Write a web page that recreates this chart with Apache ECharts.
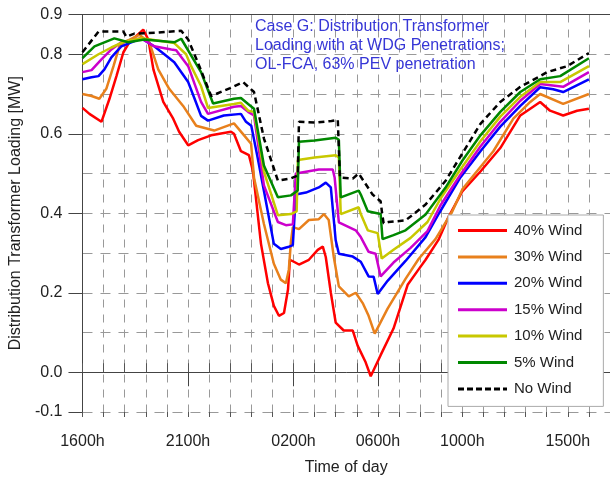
<!DOCTYPE html>
<html>
<head>
<meta charset="utf-8">
<script src="https://cdn.jsdelivr.net/npm/echarts@6/dist/echarts.min.js"></script>
<style>
html, body { margin: 0; padding: 0; background: #fff; }
#main { width: 610px; height: 481px; }
</style>
</head>
<body>
<div id="main"></div>
<script>
// hours counted from 1600h
var hourTicks = [0, 5, 10, 14, 18, 23];
var hourLabels = ['1600h', '2100h', '0200h', '0600h', '1000h', '1500h'];
var yTicks = [-0.1, 0, 0.2, 0.4, 0.6, 0.8, 0.9];
var names = ['40% Wind', '30% Wind', '20% Wind', '15% Wind', '10% Wind', '5% Wind', 'No Wind'];

var wind40 = [[0,0.665],[0.33,0.65],[0.9,0.63],[1.28,0.688],[1.61,0.745],[1.94,0.805],[2.22,0.83],[2.88,0.862],[3.12,0.837],[3.36,0.762],[3.83,0.68],[4.3,0.638],[4.58,0.605],[5.01,0.571],[5.48,0.584],[6.1,0.596],[7.04,0.605],[7.18,0.60],[7.51,0.556],[7.89,0.546],[8.08,0.506],[8.46,0.323],[8.79,0.224],[9.07,0.167],[9.31,0.142],[9.55,0.149],[9.74,0.208],[9.83,0.283],[10.02,0.278],[10.26,0.271],[10.73,0.283],[11.15,0.308],[11.39,0.316],[11.53,0.29],[11.77,0.2],[12.0,0.125],[12.38,0.105],[12.81,0.105],[13.04,0.067],[13.42,0.025],[13.66,-0.01],[14.13,0.043],[14.74,0.11],[15.41,0.22],[15.88,0.255],[16.26,0.283],[16.87,0.333],[17.34,0.39],[18.0,0.455],[18.86,0.505],[19.8,0.564],[20.75,0.646],[21.69,0.68],[22.16,0.658],[22.78,0.646],[23.44,0.658],[24,0.663]];
var wind30 = [[0,0.70],[0.43,0.695],[0.8,0.688],[1.13,0.713],[1.47,0.77],[1.75,0.82],[1.98,0.83],[2.69,0.849],[3.17,0.83],[3.59,0.762],[4.11,0.713],[4.77,0.67],[5.39,0.62],[6.24,0.608],[7.18,0.626],[7.66,0.596],[7.99,0.575],[8.13,0.489],[8.6,0.373],[9.07,0.273],[9.4,0.233],[9.64,0.224],[9.78,0.258],[9.88,0.33],[9.97,0.365],[10.26,0.36],[10.73,0.383],[11.2,0.385],[11.44,0.398],[11.67,0.383],[11.91,0.29],[12.15,0.216],[12.62,0.191],[12.95,0.2],[13.28,0.174],[13.56,0.142],[13.85,0.097],[14.46,0.16],[15.31,0.235],[15.93,0.285],[16.73,0.335],[17.53,0.405],[18.0,0.46],[18.53,0.495],[19.47,0.556],[20.42,0.638],[21.22,0.68],[21.69,0.70],[22.78,0.675],[24,0.70]];
var wind20 = [[0,0.737],[0.43,0.742],[0.76,0.745],[1.04,0.762],[1.37,0.792],[1.84,0.82],[2.79,0.84],[3.4,0.82],[3.88,0.80],[4.35,0.78],[5.01,0.73],[5.3,0.69],[5.62,0.645],[5.95,0.633],[6.7,0.646],[7.51,0.65],[7.75,0.63],[8.0,0.62],[8.3,0.54],[8.6,0.456],[9.07,0.323],[9.4,0.31],[9.74,0.315],[9.97,0.32],[10.11,0.447],[10.59,0.452],[11.2,0.465],[11.53,0.477],[11.77,0.465],[12.0,0.332],[12.15,0.298],[12.81,0.291],[13.19,0.278],[13.56,0.241],[13.8,0.24],[13.99,0.197],[14.46,0.23],[15.31,0.28],[16.26,0.34],[16.9,0.40],[17.91,0.49],[18.86,0.556],[19.8,0.618],[20.75,0.67],[21.69,0.717],[22.31,0.712],[22.78,0.705],[24,0.737]];
var wind15 = [[0,0.755],[0.43,0.76],[0.9,0.787],[1.37,0.812],[1.84,0.83],[2.79,0.84],[3.4,0.82],[4.21,0.812],[4.44,0.81],[5.01,0.77],[5.62,0.68],[5.95,0.65],[7.18,0.668],[7.51,0.67],[7.85,0.655],[8.13,0.646],[8.6,0.47],[9.26,0.378],[9.64,0.37],[9.97,0.372],[10.11,0.50],[11.2,0.51],[11.86,0.51],[11.95,0.49],[12.15,0.377],[12.95,0.357],[13.19,0.34],[13.56,0.303],[13.89,0.298],[14.13,0.241],[14.74,0.276],[15.55,0.313],[16.35,0.355],[16.97,0.42],[17.91,0.497],[18.86,0.568],[19.8,0.63],[20.75,0.683],[21.69,0.725],[22.78,0.718],[24,0.755]];
var wind10 = [[0,0.775],[0.76,0.80],[1.37,0.817],[1.98,0.832],[2.79,0.84],[3.88,0.832],[4.35,0.828],[4.91,0.80],[5.15,0.77],[5.62,0.72],[5.95,0.665],[7.18,0.675],[7.51,0.678],[7.85,0.658],[8.13,0.655],[8.6,0.505],[9.26,0.395],[9.88,0.398],[10.15,0.405],[10.21,0.534],[11.0,0.54],[12.0,0.546],[12.15,0.54],[12.24,0.398],[13.09,0.415],[13.19,0.398],[13.52,0.357],[13.99,0.35],[14.18,0.286],[14.74,0.308],[15.55,0.338],[16.35,0.378],[16.97,0.437],[17.91,0.51],[18.86,0.581],[19.8,0.643],[20.75,0.693],[21.69,0.73],[22.64,0.73],[24,0.77]];
var wind5 = [[0,0.79],[0.57,0.82],[1.51,0.84],[2.17,0.83],[2.93,0.837],[4.35,0.83],[4.68,0.839],[5.62,0.755],[6.19,0.676],[7.18,0.688],[7.51,0.69],[7.85,0.675],[8.13,0.663],[8.6,0.52],[9.26,0.44],[9.88,0.445],[10.2,0.457],[10.26,0.58],[11.0,0.583],[12.0,0.59],[12.15,0.585],[12.24,0.44],[13.09,0.457],[13.19,0.447],[13.52,0.405],[14.13,0.398],[14.22,0.335],[14.74,0.345],[15.31,0.357],[16.26,0.397],[17.2,0.464],[18.0,0.532],[18.86,0.596],[19.8,0.655],[20.75,0.705],[21.69,0.737],[22.64,0.745],[24,0.79]];
var noWind = [[0,0.805],[0.76,0.857],[1.94,0.857],[2.08,0.844],[2.46,0.852],[3.5,0.854],[4.68,0.859],[5.01,0.837],[5.5,0.775],[6.1,0.695],[6.33,0.70],[7.0,0.715],[7.61,0.73],[8.13,0.705],[8.6,0.588],[9.26,0.482],[9.88,0.488],[10.2,0.495],[10.26,0.63],[11.0,0.628],[11.8,0.632],[12.1,0.635],[12.2,0.49],[12.81,0.487],[13.09,0.50],[13.75,0.447],[14.13,0.43],[14.2,0.40],[14.27,0.375],[14.5,0.378],[15.31,0.382],[16.26,0.422],[17.2,0.481],[18.0,0.55],[18.86,0.625],[19.8,0.68],[20.75,0.718],[21.69,0.745],[22.02,0.755],[22.97,0.77],[24,0.803]];

var colors = ['#ff0000', '#e8801c', '#0000ff', '#cc00cc', '#c8c800', '#008800', '#000000'];
var allData = [wind40, wind30, wind20, wind15, wind10, wind5, noWind];

var myChart = echarts.init(document.getElementById('main'));

var font = 'Liberation Sans, Arial, sans-serif';
var axisColor = '#444';
var dashIcon = 'path://M0,0h6v3h-6z M9,0h6v3h-6z M18,0h6v3h-6z M27,0h6v3h-6z M36,0h6v3h-6z M45,0h4v3h-4z';

var series = allData.map(function (d, i) {
    return {
        name: names[i],
        type: 'line',
        data: d,
        symbol: 'none',
        color: colors[i],
        lineStyle: {
            width: 2.5,
            color: colors[i],
            type: i === 6 ? [6, 4] : 'solid'
        },
        animation: false
    };
});

// legend: plain line samples, dashed for No Wind
var legendData = names.map(function (n, i) {
    return { name: n, icon: i === 6 ? dashIcon : 'rect' };
});

var option = {
    backgroundColor: '#fff',
    textStyle: { fontFamily: font },
    title: {
        text: 'Case G: Distribution Transformer\nLoading with at WDG Penetrations;\nOL-FCA, 63% PEV penetration',
        left: 255,
        top: 17,
        padding: 0,
        textStyle: {
            fontFamily: font,
            fontSize: 16,
            fontWeight: 'normal',
            color: '#3636d6',
            lineHeight: 19
        }
    },
    grid: { left: 81, right: 0, top: 14.5, bottom: 64 },
    legend: {
        orient: 'vertical',
        left: 448,
        top: 215,
        padding: [8, 21, 10, 10],
        itemGap: 11.4,
        itemWidth: 49,
        itemHeight: 3,
        backgroundColor: '#fff',
        borderColor: '#aaa',
        borderWidth: 1,
        textStyle: { fontFamily: font, fontSize: 15, color: '#222', padding: [0, 0, 0, 2] },
        data: legendData
    },
    xAxis: [
        {
            type: 'value',
            min: 0,
            max: 25,
            name: 'Time of day',
            nameLocation: 'middle',
            nameGap: 48,
            nameTextStyle: { fontFamily: font, fontSize: 16, color: '#222' },
            axisLine: { show: true, lineStyle: { color: axisColor } },
            axisTick: { show: true, length: 14, customValues: hourTicks, lineStyle: { color: axisColor } },
            axisLabel: {
                customValues: hourTicks,
                margin: 22,
                fontFamily: font,
                fontSize: 16,
                color: '#222',
                formatter: function (v) {
                    var k = hourTicks.indexOf(v);
                    return k >= 0 ? hourLabels[k] : '';
                }
            },
            splitLine: { show: false }
        },
        {
            // hourly ticks above the axis + vertical grid
            type: 'value',
            min: 0,
            max: 25,
            interval: 1,
            position: 'bottom',
            axisLine: { show: false },
            axisTick: { show: true, inside: true, length: 9, lineStyle: { color: '#555' } },
            axisLabel: { show: false },
            splitLine: { show: true, lineStyle: { color: '#999', type: [8, 7], width: 1 } }
        },
        {
            // hourly ticks below the axis
            type: 'value',
            min: 0,
            max: 25,
            interval: 1,
            position: 'bottom',
            axisLine: { show: false },
            axisTick: { show: true, length: 5, lineStyle: { color: '#555' } },
            axisLabel: { show: false },
            splitLine: { show: false }
        },
        {
            type: 'value',
            min: 0,
            max: 25,
            position: 'top',
            axisLine: { show: true, lineStyle: { color: axisColor } },
            axisTick: { show: false },
            axisLabel: { show: false },
            splitLine: { show: false }
        }
    ],
    yAxis: [
        {
            type: 'value',
            min: -0.1,
            max: 0.9,
            name: 'Distribution Transformer Loading [MW]',
            nameLocation: 'middle',
            nameGap: 54,
            nameTextStyle: { fontFamily: font, fontSize: 16, color: '#222' },
            axisLine: { show: true, lineStyle: { color: axisColor } },
            axisTick: { show: true, length: 14, customValues: yTicks, lineStyle: { color: axisColor } },
            axisLabel: {
                customValues: yTicks,
                margin: 20,
                fontFamily: font,
                fontSize: 16,
                color: '#222',
                formatter: function (v) { return v.toFixed(1); }
            },
            splitLine: { show: false }
        },
        {
            type: 'value',
            min: -0.1,
            max: 0.9,
            interval: 0.1,
            axisLine: { show: false },
            axisTick: { show: false },
            axisLabel: { show: false },
            splitLine: { show: true, lineStyle: { color: '#999', type: [10, 8], width: 1 } }
        }
    ],
    series: series
};

myChart.setOption(option);
</script>
</body>
</html>
